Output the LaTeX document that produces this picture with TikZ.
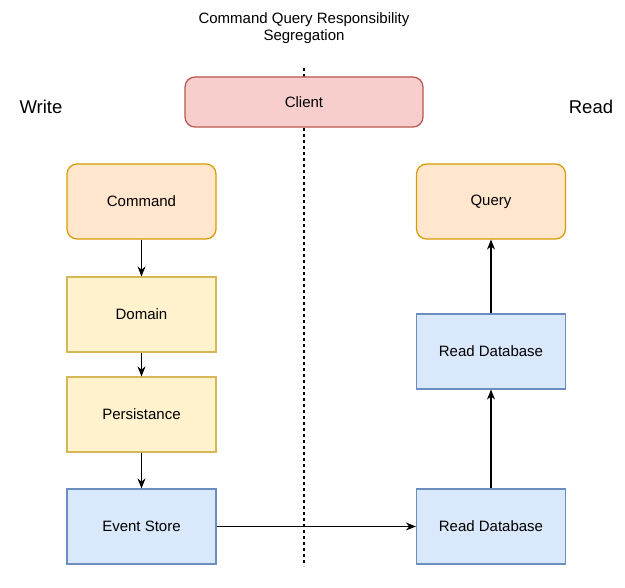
\documentclass[tikz,border=0pt]{standalone}
\usepackage{fontspec}
\setmainfont{Liberation Sans}
\usetikzlibrary{arrows.meta}

\tikzset{
  box/.style={draw, line width=1.2pt, minimum width=149pt, minimum height=75pt, inner sep=0pt, font=\fontsize{15}{18}\selectfont},
  roundbox/.style={box, rounded corners=10pt},
  cmdbox/.style={roundbox, fill={rgb,255:red,255;green,230;blue,204}, draw={rgb,255:red,215;green,155;blue,0}},
  clientbox/.style={roundbox, fill={rgb,255:red,248;green,206;blue,204}, draw={rgb,255:red,184;green,84;blue,80}},
  domainbox/.style={box, fill={rgb,255:red,255;green,242;blue,204}, draw={rgb,255:red,214;green,182;blue,86}},
  storebox/.style={box, fill={rgb,255:red,218;green,232;blue,252}, draw={rgb,255:red,108;green,142;blue,191}},
  flow/.style={line width=1.2pt, -{Stealth[length=10pt,width=8pt]}},
  side/.style={font=\fontsize{18.5}{22}\selectfont}
}

\begin{document}
\begin{tikzpicture}[x=1pt,y=-1pt]
\useasboundingbox (0,0) rectangle (625,588);

\coordinate (T) at (304,68);
\coordinate (U) at (304,566);
\draw [line width=1.2pt, dash pattern=on 3pt off 3pt] (T)--(U);

\node [align=center, font=\fontsize{15}{17}\selectfont] (title) at (304,28) {Command Query Responsibility\\Segregation};
\node [side] (write) at (41,107) {Write};
\node [side] (read) at (591,107) {Read};

\node [clientbox, minimum width=238pt, minimum height=50pt] (client) at (304,102) {Client};
\node [cmdbox] (command) at (141.5,201.5) {Command};
\node [cmdbox] (query) at (491,201.5) {Query};
\node [domainbox] (domain) at (141.5,314.5) {Domain};
\node [domainbox] (persist) at (141.5,414.5) {Persistance};
\node [storebox] (event) at (141.5,526.5) {Event Store};
\node [storebox] (readtop) at (491,351.5) {Read Database};
\node [storebox] (readbot) at (491,526.5) {Read Database};

\draw [flow] (command)--(domain);
\draw [flow] (domain)--(persist);
\draw [flow] (persist)--(event);
\draw [flow] (event)--(readbot);
\draw [flow] (readbot)--(readtop);
\draw [flow] (readtop)--(query);
\end{tikzpicture}
\end{document}
